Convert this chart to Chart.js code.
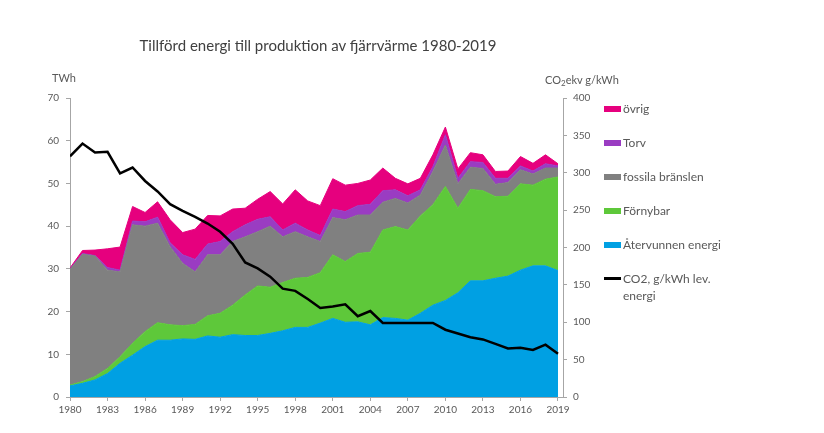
<!DOCTYPE html>
<html lang="sv">
<head>
<meta charset="utf-8">
<title>Tillförd energi till produktion av fjärrvärme 1980-2019</title>
<script src="https://cdn.jsdelivr.net/npm/chart.js@4.4.1/dist/chart.umd.min.js"></script>
<style>
  body { margin: 0; background: #fff; font-family: Lato, 'Open Sans', sans-serif; color: #595959; }
  #wrap { position: relative; width: 824px; height: 433px; overflow: hidden; }
  #chart { position: absolute; left: 0; top: 0; }
  .title { position: absolute; left: 0; width: 636px; top: 36px; line-height: 18px; text-align: center; font-size: 15px; color: #404040; }
  .unit { position: absolute; line-height: 14px; font-size: 11px; }
  .unit sub { font-size: 8px; vertical-align: -2px; line-height: 0; }
  .legend-item { position: absolute; left: 604px; display: flex; align-items: flex-start; font-size: 12px; line-height: 17px; white-space: nowrap; }
  .legend-swatch { width: 17px; height: 6px; margin: 6px 2px 0 0; flex: none; }
  .legend-swatch.line { height: 2.5px; margin-top: 7px; }
</style>
</head>
<body>
<div id="wrap">
  <canvas id="chart" width="824" height="433"></canvas>
  <div class="title">Tillförd energi till produktion av fjärrvärme 1980-2019</div>
  <div class="unit" style="left:52px;top:71px">TWh</div>
  <div class="unit" style="left:545px;top:73px">CO<sub>2</sub>ekv g/kWh</div>
  <div id="legend"></div>
</div>
<script>
const YEARS = [1980, 1981, 1982, 1983, 1984, 1985, 1986, 1987, 1988, 1989,
               1990, 1991, 1992, 1993, 1994, 1995, 1996, 1997, 1998, 1999,
               2000, 2001, 2002, 2003, 2004, 2005, 2006, 2007, 2008, 2009,
               2010, 2011, 2012, 2013, 2014, 2015, 2016, 2017, 2018, 2019];

// TWh per källa (staplade)
const ATERVUNNEN = [2.6, 3.2, 4.0, 5.5, 7.9, 9.8, 11.8, 13.3, 13.3, 13.6,
                    13.5, 14.3, 14.0, 14.6, 14.4, 14.4, 14.9, 15.5, 16.3, 16.3,
                    17.3, 18.4, 17.5, 17.6, 16.9, 18.6, 18.4, 18.0, 19.6, 21.5,
                    22.6, 24.4, 27.2, 27.2, 27.8, 28.3, 29.7, 30.7, 30.7, 29.6];
const FORNYBAR   = [0.2, 0.4, 0.8, 1.2, 1.5, 2.8, 3.5, 4.1, 3.6, 3.1,
                    3.5, 4.7, 5.6, 6.9, 9.5, 11.6, 10.8, 11.3, 11.5, 11.7,
                    11.8, 14.9, 14.2, 16.0, 17.0, 20.5, 21.5, 21.1, 22.8, 23.5,
                    26.7, 19.8, 21.4, 21.1, 19.1, 18.7, 20.2, 18.9, 20.3, 21.9];
const FOSSILA    = [27.1, 29.8, 28.2, 23.0, 19.9, 27.7, 24.7, 23.3, 18.3, 14.6,
                    12.3, 14.3, 13.7, 14.9, 13.6, 12.7, 14.3, 10.7, 10.9, 9.5,
                    7.3, 8.7, 9.8, 9.0, 8.7, 6.5, 6.6, 6.3, 4.9, 7.8,
                    9.7, 5.7, 5.2, 5.2, 2.9, 3.2, 3.3, 2.6, 2.6, 2.1];
const TORV       = [0.1, 0.2, 0.1, 0.6, 0.4, 0.9, 1.0, 1.4, 0.9, 2.0,
                    2.9, 2.5, 3.1, 2.3, 2.8, 2.9, 2.2, 1.6, 2.0, 1.6,
                    1.4, 2.0, 1.9, 2.2, 2.5, 2.7, 2.0, 1.7, 1.2, 1.1,
                    2.4, 1.3, 1.3, 1.4, 1.4, 1.0, 0.9, 0.7, 1.0, 0.5];
const OVRIG      = [0.2, 0.7, 1.3, 4.4, 5.4, 3.4, 2.2, 3.6, 5.4, 5.2,
                    7.1, 6.7, 6.0, 5.3, 3.9, 4.7, 5.9, 6.1, 7.8, 6.8,
                    7.0, 7.1, 6.2, 5.2, 5.7, 5.3, 2.7, 2.8, 2.7, 2.8,
                    1.8, 2.2, 2.1, 1.8, 1.6, 1.7, 2.2, 1.8, 2.1, 0.5];

// g CO2/kWh levererad energi (höger axel)
const CO2 = [322, 339, 327, 328, 299, 307, 289, 275, 258, 249,
             241, 232, 221, 205, 180, 172, 161, 145, 142, 131,
             119, 121, 124, 108, 115, 99, 99, 99, 99, 99,
             90, 85, 80, 77, 71, 65, 66, 63, 70, 58];

const X_TICKS  = [1980, 1983, 1986, 1989, 1992, 1995, 1998, 2001, 2004, 2007, 2010, 2013, 2016, 2019];
const Y_TICKS  = [0, 10, 20, 30, 40, 50, 60, 70];
const Y1_TICKS = [0, 50, 100, 150, 200, 250, 300, 350, 400];

const AXIS = '#a6a6a6';
const TICK_FONT = { family: 'Lato', size: 10 };

const pts = arr => arr.map((v, i) => ({ x: YEARS[i], y: v }));

const area = (label, data, color, fill) => ({
  label, data: pts(data), yAxisID: 'y', fill, order: 1,
  backgroundColor: color, borderColor: color, borderWidth: 1,
  pointRadius: 0, tension: 0,
});

const datasets = [
  area('Återvunnen energi', ATERVUNNEN, '#00a0e3', 'origin'),
  area('Förnybar',          FORNYBAR,   '#5ec83a', '-1'),
  area('fossila bränslen',  FOSSILA,    '#808080', '-1'),
  area('Torv',              TORV,       '#9a3cc2', '-1'),
  area('övrig',             OVRIG,      '#e6007e', '-1'),
  { label: 'CO2, g/kWh lev. energi', data: pts(CO2), yAxisID: 'y1', order: 0,
    borderColor: '#000', backgroundColor: '#000', borderWidth: 2.5,
    fill: false, pointRadius: 0, tension: 0 },
];

const fixedTicks = list => scale => { scale.ticks = list.map(value => ({ value })); };
const axisGrid = { drawOnChartArea: false, drawTicks: true, tickLength: 4, color: AXIS };

new Chart(document.getElementById('chart'), {
  type: 'line',
  data: { datasets },
  options: {
    responsive: false, animation: false,
    layout: { padding: { left: 0, right: 221, top: 98, bottom: 0 } },
    plugins: { legend: { display: false }, tooltip: { enabled: false } },
    scales: {
      x: {
        type: 'linear', min: 1980, max: 2019.4,
        afterBuildTicks: fixedTicks(X_TICKS),
        afterFit: s => { s.height = 36; },
        ticks: { callback: v => String(v), autoSkip: false, maxRotation: 0, padding: 3, color: '#595959', font: TICK_FONT },
        grid: axisGrid, border: { color: AXIS },
      },
      y: {
        stacked: true, min: 0, max: 70,
        afterBuildTicks: fixedTicks(Y_TICKS),
        afterFit: s => { s.width = 70; },
        ticks: { padding: 7, color: '#595959', font: TICK_FONT },
        grid: axisGrid, border: { color: AXIS },
      },
      y1: {
        position: 'right', min: 0, max: 400,
        afterBuildTicks: fixedTicks(Y1_TICKS),
        afterFit: s => { s.width = 40; },
        ticks: { padding: 6, color: '#595959', font: TICK_FONT },
        grid: axisGrid, border: { color: AXIS },
      },
    },
  },
});

// legend in Excel order: top of the stack first, CO2 last
const legendEl = document.getElementById('legend');
const legendOrder = [4, 3, 2, 1, 0, 5];
legendEl.innerHTML = legendOrder.map((di, i) => {
  const ds = datasets[di];
  const isLine = ds.yAxisID === 'y1';
  const text = isLine ? 'CO2, g/kWh lev.<br>energi' : ds.label;
  return `<div class="legend-item" style="top:${100 + i * 34}px">
    <div class="legend-swatch${isLine ? ' line' : ''}" style="background:${ds.backgroundColor}"></div>
    <div>${text}</div>
  </div>`;
}).join('');
</script>
</body>
</html>
